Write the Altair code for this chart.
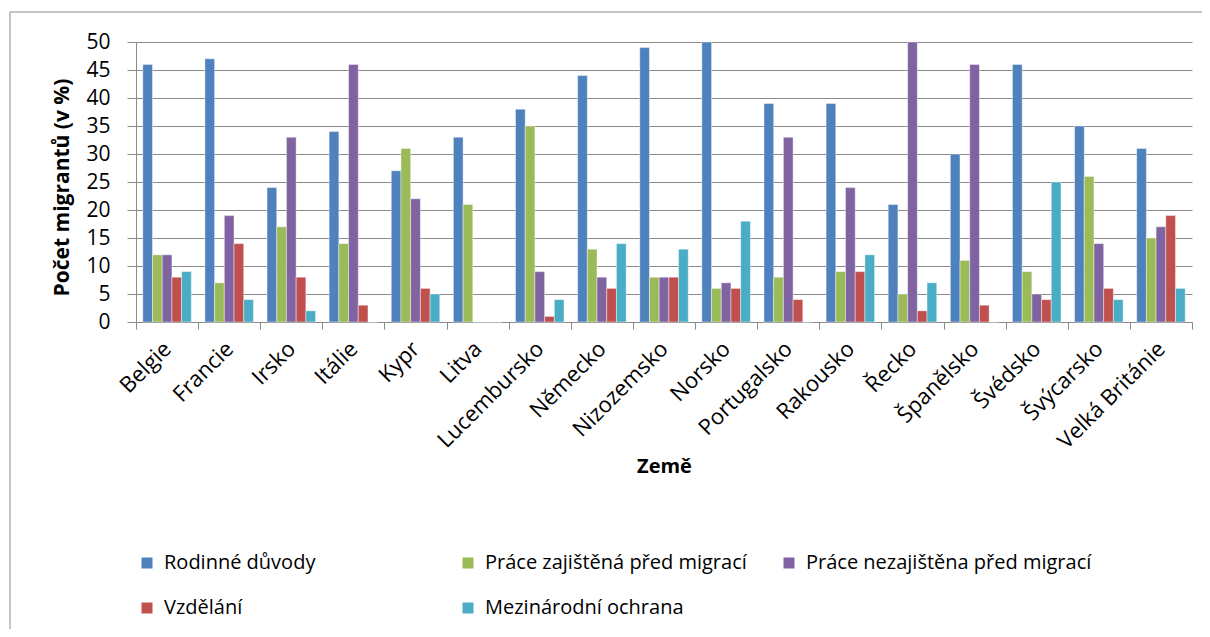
import altair as alt
import pandas as pd

countries = ["Belgie", "Francie", "Irsko", "Itálie", "Kypr", "Litva", "Lucembursko",
             "Německo", "Nizozemsko", "Norsko", "Portugalsko", "Rakousko", "Řecko",
             "Španělsko", "Švédsko", "Švýcarsko", "Velká Británie"]
series = ["Rodinné důvody", "Práce zajištěná před migrací", "Práce nezajištěna před migrací",
          "Vzdělání", "Mezinárodní ochrana"]
colors = ["#4F81BD", "#9BBB59", "#8064A2", "#C0504D", "#4BACC6"]

rodinne = [46, 47, 24, 34, 27, 33, 38, 44, 49, 50, 39, 39, 21, 30, 46, 35, 31]
prace_zaj = [12, 7, 17, 14, 31, 21, 35, 13, 8, 6, 8, 9, 5, 11, 9, 26, 15]
prace_nezaj = [12, 19, 33, 46, 22, 0, 9, 8, 8, 7, 33, 24, 50, 46, 5, 14, 17]
vzdelani = [8, 14, 8, 3, 6, 0, 1, 6, 8, 6, 4, 9, 2, 3, 4, 6, 19]
ochrana = [9, 4, 2, 0, 5, 0, 4, 14, 13, 18, 0, 12, 7, 0, 25, 4, 6]

values = [rodinne, prace_zaj, prace_nezaj, vzdelani, ochrana]
rows = []
for s, vals in zip(series, values):
    for c, v in zip(countries, vals):
        rows.append({"country": c, "series": s, "value": v})
df = pd.DataFrame(rows)

FONT = "Open Sans"
GRAY = "#8a8a8a"

frame = alt.Chart(alt.Data(values=[{"f": 1}])).mark_rect(
    fill="transparent", stroke=GRAY, strokeWidth=1
).encode(
    x=alt.value(-126), x2=alt.value(2000), y=alt.value(-30), y2=alt.value(900)
)

bars = alt.Chart(df).mark_bar(stroke="white", strokeWidth=0.6, strokeOpacity=0.7).encode(
    x=alt.X("country:N", sort=countries,
            scale=alt.Scale(paddingInner=0, paddingOuter=0),
            axis=alt.Axis(title="Země", labelAngle=-45, labelAlign="right",
                          labelBaseline="middle", labelFontSize=22, labelColor="black",
                          labelPadding=16, tickBand="extent", tickSize=7,
                          tickColor=GRAY, domainColor=GRAY, labelLimit=300,
                          titleFontSize=20, titleFontWeight="bold", titleColor="black",
                          titleY=144, titleBaseline="middle")),
    xOffset=alt.XOffset("series:N", sort=series,
                        scale=alt.Scale(paddingInner=0, paddingOuter=0.7)),
    y=alt.Y("value:Q", scale=alt.Scale(domain=[0, 50], nice=False, clamp=True),
            axis=alt.Axis(title="Počet migrantů (v %)", values=list(range(0, 51, 5)),
                          labelFontSize=21, labelColor="black", labelPadding=17,
                          tickSize=9, tickColor=GRAY, domainColor=GRAY,
                          gridColor=GRAY, grid=True,
                          titleFontSize=21, titleFontWeight="bold", titleColor="black",
                          titleX=-74, titleY=145, titleAngle=-90,
                          titleAlign="center", titleBaseline="middle")),
    color=alt.Color("series:N", sort=series,
                    scale=alt.Scale(domain=series, range=colors),
                    legend=alt.Legend(title=None, orient="none", legendX=1, legendY=511,
                                      columns=3, direction="horizontal", gridAlign="all",
                                      columnPadding=8,
                                      rowPadding=25, symbolType="square", symbolSize=121,
                                      symbolStrokeWidth=0, labelFontSize=20,
                                      labelColor="black", labelOffset=7, labelLimit=400,
                                      padding=0)),
)

chart = alt.layer(frame, bars).properties(
    width=1056, height=280,
    padding={"left": 128, "top": 34, "right": 10, "bottom": 307},
    autosize=alt.AutoSizeParams(type="none"),
).configure(font=FONT).configure_view(stroke=None)

chart.save("out.html", embed_options={"renderer": "svg", "actions": False})
